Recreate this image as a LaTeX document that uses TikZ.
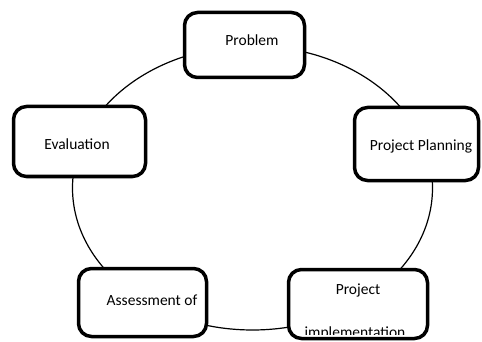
\documentclass[tikz,border=0pt]{standalone}
\usepackage{fontspec}
\setmainfont{Carlito}
\tikzset{
  stage/.style={draw, rounded corners=13pt, line width=3.5pt, fill=white},
  stagetext/.style={font=\fontsize{15.5}{18}\selectfont},
  cycleline/.style={line width=1.2pt}
}
\begin{document}
\begin{tikzpicture}[x=1pt, y=-1pt]
\useasboundingbox (0,0) rectangle (482,342);
\draw[cycleline] (252.5,188) ellipse [x radius=180pt, y radius=142pt];
\node[stage, minimum width=120pt, minimum height=65pt] (prob) at (244.5,45){};
\node[stage, minimum width=124pt, minimum height=73pt] (plan) at (416.5,144){};
\node[stage, minimum width=132pt, minimum height=70pt] (eval) at (79.5,141.5){};
\node[stage, minimum width=128pt, minimum height=68pt] (asse) at (142.5,302.5){};
\node[stage, minimum width=139pt, minimum height=69pt] (impl) at (358,304){};
\node[stagetext] (probtxt) at (252,40){Problem};
\node[stagetext] (plantxt) at (421,146){Project Planning};
\node[stagetext] (evaltxt) at (77,144){Evaluation};
\node[stagetext] (assetxt) at (152,300){Assessment of};
\node[stagetext] (impltxt) at (358,290){Project};
\begin{scope}
\clip (290,318) rectangle (427,334.5);
\node[stagetext, anchor=base] (impltxt2) at (355,337){implementation};
\end{scope}
\end{tikzpicture}
\end{document}
